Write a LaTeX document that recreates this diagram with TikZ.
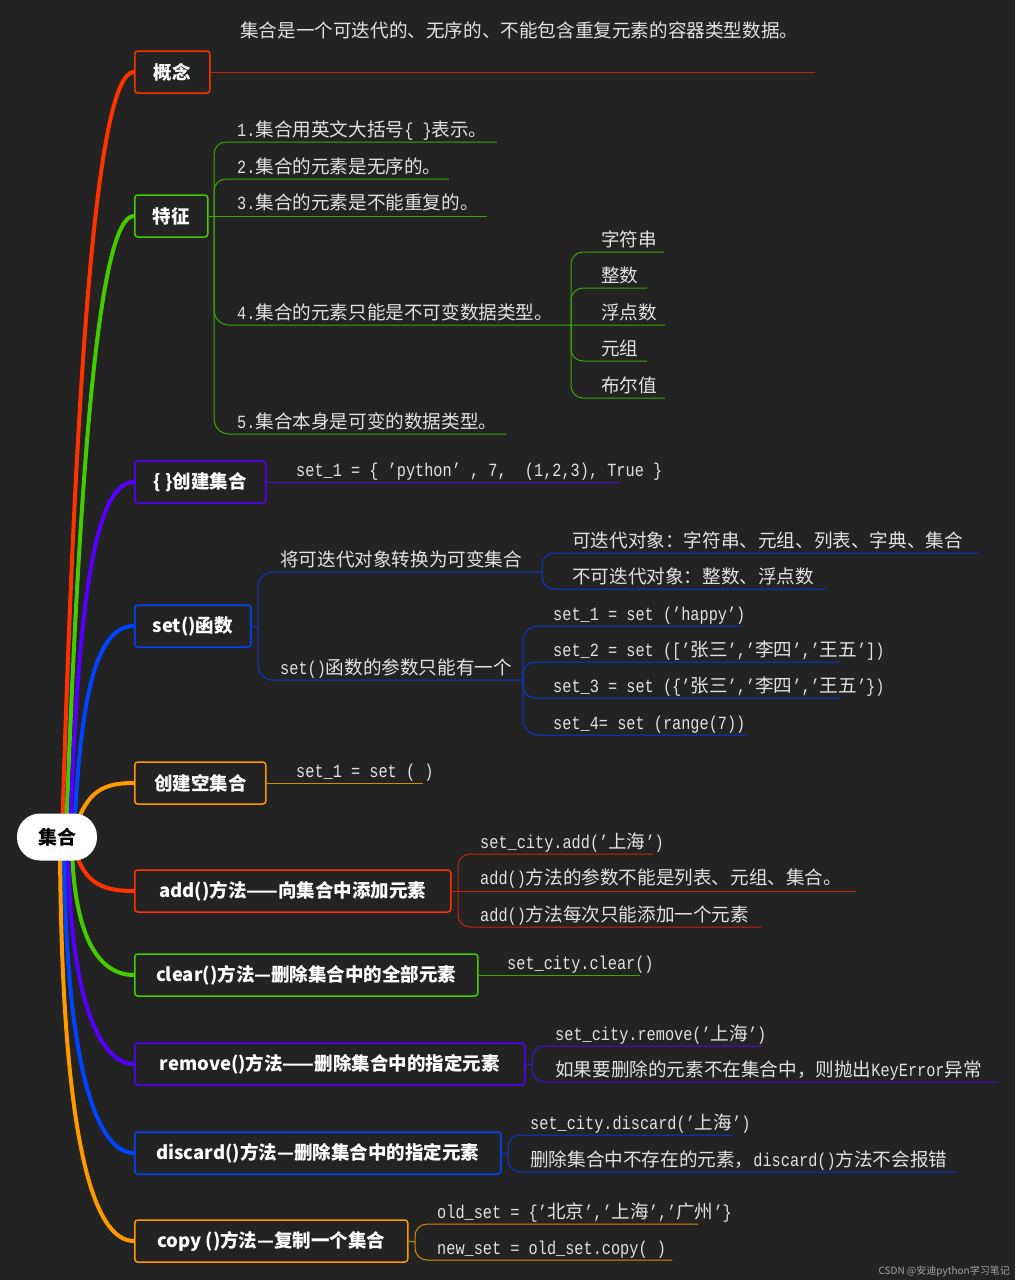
\documentclass[tikz,border=0pt]{standalone}
\usepackage{fontspec}
\setmainfont{Noto Sans CJK SC}
\newfontfamily\latf{Liberation Mono}[FakeStretch=0.82]
\newcommand\Lt[1]{{\latf #1}}
\definecolor{bg}{HTML}{232323}
\definecolor{cR}{HTML}{FF3300}
\definecolor{cG}{HTML}{44CC00}
\definecolor{cP}{HTML}{5500FF}
\definecolor{cB}{HTML}{0044FF}
\definecolor{cO}{HTML}{FF9900}
\definecolor{tR}{HTML}{C02A08}
\definecolor{tG}{HTML}{3AAA00}
\definecolor{tP}{HTML}{4A0CE0}
\definecolor{tB}{HTML}{0A36D0}
\definecolor{tO}{HTML}{D88A00}
\definecolor{leafc}{HTML}{E2E2E2}
\tikzset{
  topic/.style={draw=#1, line width=1.5pt, rounded corners=3pt, fill=bg, text=white,
    font=\fontsize{18.5}{20}\selectfont\bfseries, minimum height=42pt, inner sep=0pt, anchor=west},
  branch/.style={draw=#1, line width=4pt, line cap=round},
  sub/.style={draw=#1, line width=1pt, rounded corners=12pt},
  leaf/.style={text=leafc, font=\fontsize{18.6}{20}\selectfont, inner sep=0pt, anchor=base west},
}
\begin{document}
\begin{tikzpicture}[x=1pt,y=-1pt]
\fill[bg] (0,0) rectangle (1015,1280);
\useasboundingbox (0,0) rectangle (1015,1280);
\coordinate (rc) at (57,837);
% main branches
\draw[branch=cR] (rc) ++(5,0) .. controls (75,400) and (95,72) .. (134,72) coordinate (gnw);
\draw[branch=cG] (rc) ++(9,0) .. controls (80,450) and (100,216) .. (134,216) coordinate (tzw);
\draw[branch=cP] (rc) ++(13,0) .. controls (78,600) and (95,482) .. (134,482) coordinate (cjw);
\draw[branch=cB] (rc) ++(17,0) .. controls (80,700) and (95,626) .. (134,626) coordinate (sfw);
\draw[branch=cO] (rc) ++(21,-17) .. controls (90,790) and (105,783) .. (134,783) coordinate (kjw);
\draw[branch=cR] (rc) ++(18,13) .. controls (85,885) and (105,891) .. (134,891) coordinate (adw);
\draw[branch=cG] (rc) ++(15,13) .. controls (75,940) and (100,975) .. (134,975) coordinate (clw);
\draw[branch=cP] (rc) ++(11,13) .. controls (70,1000) and (100,1064) .. (134,1064) coordinate (rmw);
\draw[branch=cB] (rc) ++(7,13) .. controls (66,1080) and (100,1153) .. (134,1153) coordinate (dcw);
\draw[branch=cO] (rc) ++(3,13) .. controls (62,1150) and (95,1241) .. (134,1241) coordinate (cpw);
% root
\node[fill=white, rounded corners=23pt, minimum width=80pt, minimum height=47pt, inner sep=0pt,
  font=\fontsize{19}{20}\selectfont\bfseries, text=black] (root) at (rc) {集合};
% topic boxes
\node[topic=cR, minimum width=75pt] (gn) at (gnw) {概念};
\node[topic=cG, minimum width=73pt] (tz) at (tzw) {特征};
\node[topic=cP, minimum width=131pt] (cj) at (cjw) {\{ \}创建集合};
\node[topic=cB, minimum width=116pt] (sf) at (sfw) {set()函数};
\node[topic=cO, minimum width=131pt] (kj) at (kjw) {创建空集合};
\node[topic=cR, minimum width=316pt] (ad) at (adw) {add()方法——向集合中添加元素};
\node[topic=cG, minimum width=343pt] (cl) at (clw) {clear()方法—删除集合中的全部元素};
\node[topic=cP, minimum width=390pt] (rm) at (rmw) {remove()方法——删除集合中的指定元素};
\node[topic=cB, minimum width=366pt] (dc) at (dcw) {discard()方法—删除集合中的指定元素};
\node[topic=cO, minimum width=273pt] (cp) at (cpw) {copy ()方法—复制一个集合};
% 概念
\draw[sub=tR] (gn.east) -- (815,72);
\node[leaf] (g1) at (240,37) {集合是一个可迭代的、无序的、不能包含重复元素的容器类型数据。};
% 特征
\coordinate (tzb) at (214,216);
\draw[sub=tG] (tz.east) -- (487,216);
\draw[sub=tG] (tzb) |- (497,142);
\draw[sub=tG] (tzb) |- (449,179);
\draw[sub=tG, rounded corners=15pt] (tzb) |- (665,325);
\draw[sub=tG, rounded corners=15pt] (tzb) |- (506,434);
\node[leaf] (t1) at (237,136) {\Lt{1.}集合用英文大括号\Lt{\{ \}}表示。};
\node[leaf] (t2) at (237,173) {\Lt{2.}集合的元素是无序的。};
\node[leaf] (t3) at (237,209) {\Lt{3.}集合的元素是不能重复的。};
\node[leaf] (t4) at (237,319) {\Lt{4.}集合的元素只能是不可变数据类型。};
\node[leaf] (t5) at (237,428) {\Lt{5.}集合本身是可变的数据类型。};
\coordinate (t4b) at (571,325);
\draw[sub=tG] (t4b) |- (664,252);
\draw[sub=tG] (t4b) |- (647,288);
\draw[sub=tG] (t4b) |- (647,361);
\draw[sub=tG] (t4b) |- (665,398);
\node[leaf] (s1) at (601,246) {字符串};
\node[leaf] (s2) at (601,282) {整数};
\node[leaf] (s3) at (601,319) {浮点数};
\node[leaf] (s4) at (601,355) {元组};
\node[leaf] (s5) at (601,392) {布尔值};
% {}创建集合
\draw[sub=tP] (cj.east) -- (620,482);
\node[leaf] (c1) at (296,476) {\Lt{set\_1 = \{ ’python’ , 7,\ \ (1,2,3), True \}}};
% set()函数
\coordinate (sfb) at (258,626);
\draw[sub=tB] (sf.east) -- (sfb);
\draw[sub=tB, rounded corners=15pt] (sfb) |- (542,572) coordinate (sfb1);
\draw[sub=tB, rounded corners=15pt] (sfb) |- (523,680);
\coordinate (sfb2) at (523,680);
\node[leaf] (f1) at (280,566) {将可迭代对象转换为可变集合};
\node[leaf] (f2) at (280,674) {\Lt{set()}函数的参数只能有一个};
\draw[sub=tB] (sfb1) |- (978,553);
\draw[sub=tB] (sfb1) |- (826,589);
\node[leaf] (f11) at (572,547) {可迭代对象：字符串、元组、列表、字典、集合};
\node[leaf] (f12) at (572,583) {不可迭代对象：整数、浮点数};
\draw[sub=tB, rounded corners=15pt] (sfb2) |- (742,626);
\draw[sub=tB] (sfb2) |- (840,662);
\draw[sub=tB] (sfb2) |- (840,698);
\draw[sub=tB, rounded corners=15pt] (sfb2) |- (746,735);
\node[leaf] (f21) at (553,620) {\Lt{set\_1 = set (’happy’)}};
\node[leaf] (f22) at (553,656) {\Lt{set\_2 = set ([’}张三\Lt{’,’}李四\Lt{’,’}王五\Lt{’])}};
\node[leaf] (f23) at (553,692) {\Lt{set\_3 = set (\{’}张三\Lt{’,’}李四\Lt{’,’}王五\Lt{’\})}};
\node[leaf] (f24) at (553,729) {\Lt{set\_4= set (range(7))}};
% 创建空集合
\draw[sub=tO] (kj.east) -- (423,783);
\node[leaf] (k1) at (296,777) {\Lt{set\_1 = set ( )}};
% add
\coordinate (adb) at (458,891);
\draw[sub=tR] (ad.east) -- (856,891);
\draw[sub=tR] (adb) |- (653,854);
\draw[sub=tR] (adb) |- (761,927);
\node[leaf] (a1) at (480,848) {\Lt{set\_city.add(’}上海\Lt{’)}};
\node[leaf] (a2) at (480,884) {\Lt{add()}方法的参数不能是列表、元组、集合。};
\node[leaf] (a3) at (480,921) {\Lt{add()}方法每次只能添加一个元素};
% clear
\draw[sub=tG] (cl.east) -- (640,975);
\node[leaf] (l1) at (507,969) {\Lt{set\_city.clear()}};
% remove
\coordinate (rmb) at (532,1064);
\draw[sub=tP] (rm.east) -- (rmb);
\draw[sub=tP] (rmb) |- (761,1046);
\draw[sub=tP] (rmb) |- (998,1082);
\node[leaf] (r1) at (555,1040) {\Lt{set\_city.remove(’}上海\Lt{’)}};
\node[leaf] (r2) at (555,1076) {如果要删除的元素不在集合中，则抛出\Lt{KeyError}异常};
% discard
\coordinate (dcb) at (508,1153);
\draw[sub=tB] (dc.east) -- (dcb);
\draw[sub=tB] (dcb) |- (733,1135);
\draw[sub=tB] (dcb) |- (956,1172);
\node[leaf] (d1) at (530,1129) {\Lt{set\_city.discard(’}上海\Lt{’)}};
\node[leaf] (d2) at (530,1166) {删除集合中不存在的元素，\Lt{discard()}方法不会报错};
% copy
\coordinate (cpb) at (415,1242);
\draw[sub=tO] (cp.east) -- (cpb);
\draw[sub=tO] (cpb) |- (698,1224);
\draw[sub=tO] (cpb) |- (672,1260);
\node[leaf] (p1) at (437,1218) {\Lt{old\_set = \{’}北京\Lt{’,’}上海\Lt{’,’}广州\Lt{’\}}};
\node[leaf] (p2) at (437,1254) {\Lt{new\_set = old\_set.copy( )}};
% watermark
\node[text=gray!70, font=\fontsize{10}{12}\selectfont, anchor=east, inner sep=0pt] (wm) at (1010,1271) {CSDN @安迪python学习笔记};
\end{tikzpicture}
\end{document}
